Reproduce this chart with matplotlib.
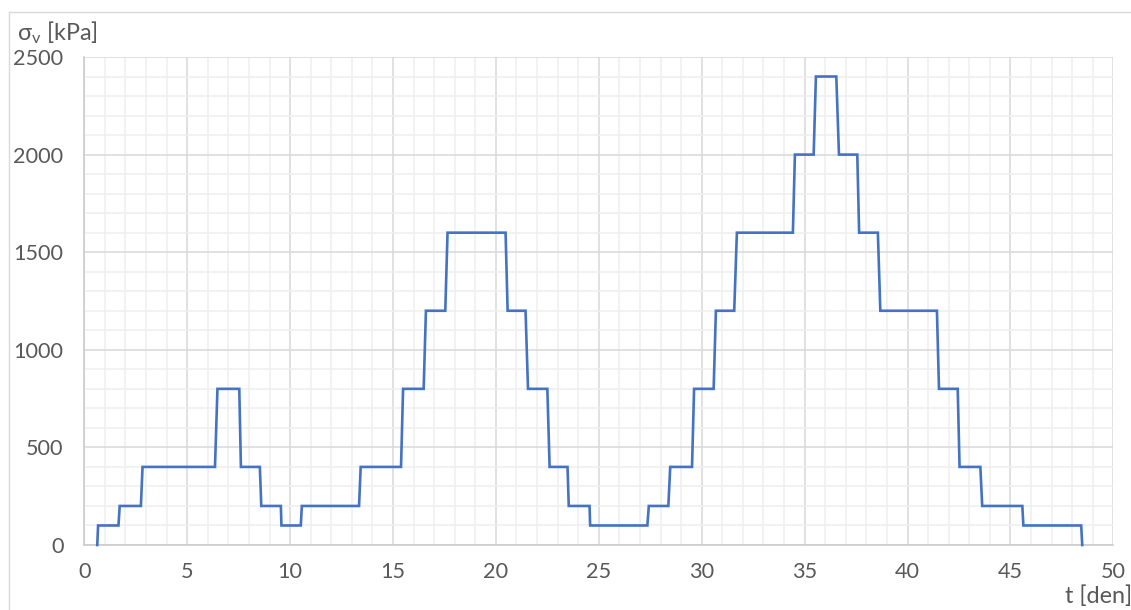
import matplotlib
matplotlib.use("Agg")
import matplotlib.pyplot as plt
from matplotlib.ticker import MultipleLocator
from matplotlib.lines import Line2D

# ---- data ----
t_days = [0.63, 0.67, 1.66, 1.72, 2.75, 2.83, 6.35, 6.47, 7.53, 7.61,
          8.53, 8.60, 9.55, 9.58, 10.52, 10.57, 13.35, 13.43, 15.39, 15.49,
          16.49, 16.60, 17.54, 17.65, 20.47, 20.57, 21.44, 21.56, 22.50, 22.61,
          23.48, 23.54, 24.55, 24.58, 27.36, 27.43, 28.38, 28.47, 29.53, 29.63,
          30.58, 30.69, 31.58, 31.71, 34.43, 34.53, 35.44, 35.55, 36.54, 36.67,
          37.56, 37.65, 38.56, 38.68, 41.43, 41.53, 42.44, 42.53, 43.54, 43.63,
          45.58, 45.63, 48.44, 48.49]
sigma_kpa = [0, 100, 100, 200, 200, 400, 400, 800, 800, 400,
             400, 200, 200, 100, 100, 200, 200, 400, 400, 800,
             800, 1200, 1200, 1600, 1600, 1200, 1200, 800, 800, 400,
             400, 200, 200, 100, 100, 200, 200, 400, 400, 800,
             800, 1200, 1200, 1600, 1600, 2000, 2000, 2400, 2400, 2000,
             2000, 1600, 1600, 1200, 1200, 800, 800, 400, 400, 200,
             200, 100, 100, 0]
x_label = "t [den]"
y_label = "σ$_\\mathregular{v}$ [kPa]"

W, H = 1131, 610
fig = plt.figure(figsize=(W / 100, H / 100), dpi=100)
fig.patch.set_facecolor("white")

FONT = "Lato"
TXT = "#595959"

x0, x1 = 84.3, 1113.3
ytop, ybot = 57, 545
ax = fig.add_axes([x0 / W, (H - ybot) / H, (x1 - x0) / W, (ybot - ytop) / H])

ax.set_xlim(0, 50)
ax.set_ylim(0, 2500)
ax.xaxis.set_major_locator(MultipleLocator(5))
ax.xaxis.set_minor_locator(MultipleLocator(1))
ax.yaxis.set_major_locator(MultipleLocator(500))
ax.yaxis.set_minor_locator(MultipleLocator(100))

ax.grid(which="minor", color="#efefef", linewidth=1.1)
ax.grid(which="major", color="#d9d9d9", linewidth=1.1)
ax.set_axisbelow(True)

for s in ["top", "right"]:
    ax.spines[s].set_visible(False)
for s in ["left", "bottom"]:
    ax.spines[s].set_color("#c9c9c9")
    ax.spines[s].set_linewidth(1.1)

ax.tick_params(which="both", length=0)
ax.tick_params(axis="x", pad=12, labelsize=15.6, labelcolor=TXT)
ax.tick_params(axis="y", pad=15, labelsize=15.6, labelcolor=TXT)
for lab in ax.get_xticklabels() + ax.get_yticklabels():
    lab.set_family(FONT)

ax.plot(t_days, sigma_kpa, color="#4472C4", linewidth=1.9, solid_joinstyle="miter", clip_on=False, zorder=3)

# axis titles
fig.text(17 / W, (H - 40) / H, y_label, ha="left", va="baseline",
         fontsize=16.8, color=TXT, family=FONT)
fig.text(1132 / W, (H - 603) / H, x_label, ha="right", va="baseline",
         fontsize=16.8, color=TXT, family=FONT)

# outer chart border
fig.add_artist(Line2D([8.5 / W, 1.0], [(H - 11.5) / H, (H - 11.5) / H],
                      transform=fig.transFigure, color="#d9d9d9", linewidth=1.0))
fig.add_artist(Line2D([8.5 / W, 8.5 / W], [0, (H - 11.5) / H],
                      transform=fig.transFigure, color="#d9d9d9", linewidth=1.0))

fig.savefig("out.png", dpi=100, facecolor="white")
